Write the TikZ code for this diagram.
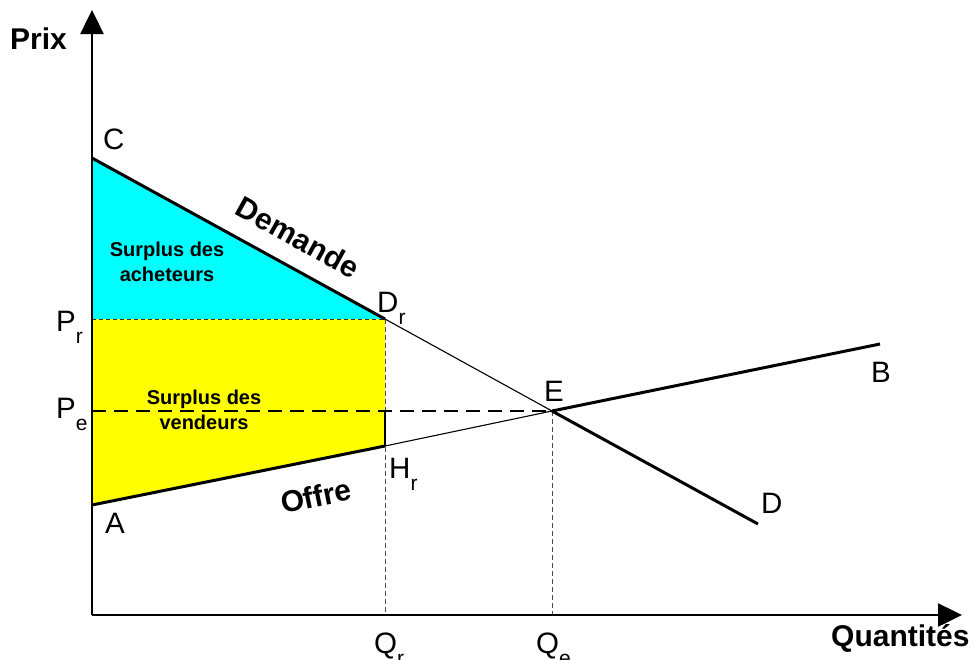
\documentclass[tikz,border=0pt]{standalone}
\usepackage{fontspec}
\setmainfont{Liberation Sans}
\usetikzlibrary{arrows.meta}
\newcommand{\lbl}[2]{#1\raisebox{-12pt}{\fontsize{21}{21}\selectfont #2}}
\definecolor{surcyan}{RGB}{0,255,255}
\definecolor{suryellow}{RGB}{255,255,0}
\begin{document}
\begin{tikzpicture}[x=1pt,y=-1pt,
 letter/.style={font=\fontsize{29.5}{29.5}\selectfont, inner sep=0pt, anchor=base west},
 boldlbl/.style={font=\fontsize{30}{30}\selectfont\bfseries, inner sep=0pt},
 surplus/.style={font=\fontsize{20}{25}\selectfont\bfseries, align=center, inner sep=0pt},
 thickline/.style={line width=3pt},
 thinline/.style={line width=1.1pt},
 guide/.style={line width=0.9pt, black!70, dash pattern=on 5pt off 3pt},
 axisline/.style={line width=2.5pt, -{Triangle[length=24pt,width=23pt]}}
]
\useasboundingbox (0,0) rectangle (976,659);
\coordinate (O) at (92,615);
\coordinate (C) at (92,158);
\coordinate (Dr) at (385,319);
\coordinate (E) at (552,411);
\coordinate (Dend) at (758,524);
\coordinate (A) at (92,505);
\coordinate (Hr) at (385,446);
\coordinate (Bend) at (880,344);
\coordinate (Pr) at (92,319);
\coordinate (Pe) at (92,411);
\coordinate (Pecut) at (385,411);
\coordinate (Qr) at (385,615);
\coordinate (Qe) at (552,615);
\coordinate (Ytip) at (92,10);
\coordinate (Xtip) at (962,615);

% surplus areas
\fill[surcyan] (C) -- (Dr) -- (Pr) -- cycle;
\fill[suryellow] (Pr) -- (Dr) -- (Hr) -- (A) -- cycle;

% guide lines
\draw[line width=0.8pt, black!80, dash pattern=on 4pt off 3pt] (Pr) -- (Dr);
\draw[guide] (Dr) -- (Qr);
\draw[guide] (E) -- (Qe);
\draw[thinline] (Pecut) -- (Hr);
\draw[line width=2pt, dash pattern=on 14pt off 8pt] (Pe) -- (E);

% demand
\draw[thickline] (C) -- (Dr);
\draw[thinline] (Dr) -- (E);
\draw[thickline] (E) -- (Dend);
% supply
\draw[thickline] (A) -- (Hr);
\draw[thinline] (Hr) -- (E);
\draw[thickline] (E) -- (Bend);

% axes
\draw[axisline] (O) -- (Ytip);
\draw[axisline] (O) -- (Xtip);

% labels
\node[boldlbl, anchor=base west] (prix) at (10,49) {Prix};
\node[boldlbl, anchor=base west] (quant) at (831,646) {Quantités};
\node[letter] (lC) at (103,149) {C};
\node[letter] (lPr) at (56,331) {\lbl{P}{r}};
\node[letter] (lPe) at (56,418) {\lbl{P}{e}};
\node[letter] (lDr) at (377,312) {\lbl{D}{r}};
\node[letter] (lE) at (544,401) {E};
\node[letter] (lB) at (871,382) {B};
\node[letter] (lHr) at (389,478) {\lbl{H}{r}};
\node[letter] (lA) at (105,533) {A};
\node[letter] (lD) at (761,513) {D};
\node[letter] (lQr) at (374,653) {\lbl{Q}{r}};
\node[letter] (lQe) at (536,653) {\lbl{Q}{e}};
\node[boldlbl, rotate=-29] (dem) at (298,237) {Demande};
\node[boldlbl, rotate=11.5] (off) at (316,496) {Offre};
\node[surplus] (sa) at (167,262) {Surplus des\\acheteurs};
\node[surplus] (sv) at (204,410) {Surplus des\\vendeurs};
\end{tikzpicture}
\end{document}
